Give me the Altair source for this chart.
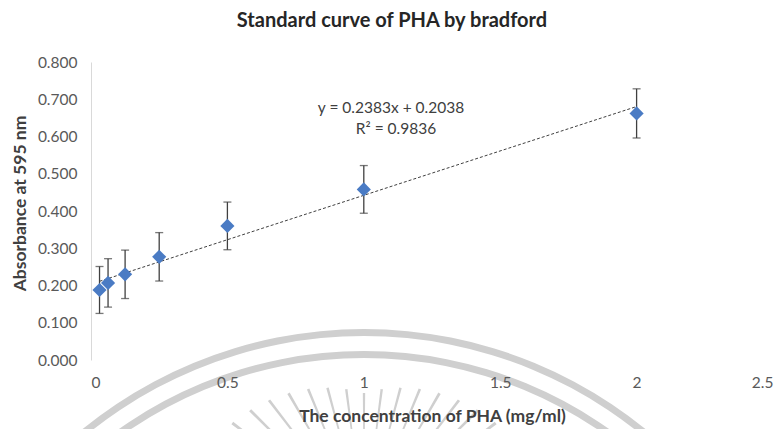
import altair as alt
import pandas as pd

# PHA standard series (mg/ml) and Bradford absorbance readings at 595 nm
concentration = [0.03125, 0.0625, 0.125, 0.25, 0.5, 1.0, 2.0]
absorbance = [0.188, 0.207, 0.230, 0.277, 0.360, 0.458, 0.662]
abs_error = [0.063, 0.065, 0.065, 0.065, 0.064, 0.064, 0.066]

# linear fit reported for the series
slope = 0.2383
intercept = 0.2038
r_squared = 0.9836

x_ticks = [0, 0.5, 1, 1.5, 2, 2.5]
y_ticks = [0.0, 0.1, 0.2, 0.3, 0.4, 0.5, 0.6, 0.7, 0.8]

FONT = "Lato"
BLUE = "#4a7bc4"
DARK = "#404040"
EMBLEM = "#cfcfcf"

df = pd.DataFrame({"conc": concentration, "abs": absorbance, "err": abs_error})
df["lo"] = df["abs"] - df["err"]
df["hi"] = df["abs"] + df["err"]

x_scale = alt.Scale(domain=[0, 2.5], nice=False, zero=False)
y_scale = alt.Scale(domain=[0, 0.8], nice=False)

x_axis = alt.Axis(
    title="The concentration of PHA (mg/ml)",
    values=x_ticks,
    format="~g",
    domain=False,
    ticks=False,
    grid=False,
    labelOverlap=False,
    labelPadding=15,
    labelFont=FONT,
    labelFontSize=15.5,
    labelColor="#595959",
    titleFont=FONT,
    titleFontSize=17.5,
    titleFontWeight="bold",
    titleColor=DARK,
    titlePadding=17,
    zindex=1,
)
y_axis = alt.Axis(
    title="Absorbance at 595 nm",
    values=y_ticks,
    format=".3f",
    domain=True,
    domainColor="#d9d9d9",
    ticks=False,
    grid=False,
    labelOverlap=False,
    labelPadding=14,
    labelFont=FONT,
    labelFontSize=15.5,
    labelColor="#595959",
    titleFont=FONT,
    titleFontSize=17.5,
    titleFontWeight="bold",
    titleColor=DARK,
    titlePadding=8,
    titleY=141,
    zindex=1,
)

x_enc = alt.X("conc:Q", scale=x_scale, axis=x_axis)


def y_of(field):
    return alt.Y(f"{field}:Q", scale=y_scale, axis=y_axis)


base = alt.Chart(df)

# decorative emblem behind the plot: two rings and a fan of rays
ring_src = pd.DataFrame({"ring": ["outer"]})
outer_ring = alt.Chart(ring_src).mark_arc(
    theta=0, theta2=6.2832, radius=446, radius2=439, color=EMBLEM
).encode(x=alt.value(273), y=alt.value(713))
inner_ring = alt.Chart(ring_src).mark_arc(
    theta=0, theta2=6.2832, radius=424, radius2=417, color=EMBLEM
).encode(x=alt.value(273), y=alt.value(713))

rays = alt.Chart(alt.sequence(0, 15, as_="i")).transform_calculate(
    deg="-52.5 + datum.i * 7.5",
).transform_calculate(
    t1="2 * PI + datum.deg * PI / 180 - 0.009",
    t2="2 * PI + datum.deg * PI / 180 + 0.009",
    r_out="131 + 30 * abs(datum.deg) / 45",
).transform_calculate(
    r_in="datum.r_out - 70",
).mark_arc(color=EMBLEM).encode(
    theta=alt.Theta("t1:Q", scale=None),
    theta2="t2:Q",
    radius=alt.Radius("r_out:Q", scale=None),
    radius2="r_in:Q",
    x=alt.value(273),
    y=alt.value(462),
)

trend = base.transform_calculate(
    fit=f"{slope} * datum.conc + {intercept}"
).mark_line(color=DARK, strokeWidth=1, strokeDash=[3, 2]).encode(
    x=x_enc, y=y_of("fit")
)

bars = base.mark_rule(color=DARK, strokeWidth=1.3).encode(
    x=x_enc, y=y_of("lo"), y2="hi:Q"
)
cap_lo = base.mark_tick(orient="horizontal", size=8, thickness=1.3, color=DARK).encode(
    x=x_enc, y=y_of("lo")
)
cap_hi = base.mark_tick(orient="horizontal", size=8, thickness=1.3, color=DARK).encode(
    x=x_enc, y=y_of("hi")
)

points = base.mark_point(shape="diamond", filled=True, size=200, opacity=1, color=BLUE).encode(
    x=x_enc, y=y_of("abs")
)

eq_src = pd.DataFrame({
    "label": [f"y = {slope}x + {intercept}", f"R\u00b2 = {r_squared}"],
})
eq1 = alt.Chart(eq_src).transform_filter(alt.datum.label == eq_src["label"][0]).mark_text(
    font=FONT, fontSize=15.5, color=DARK, align="center", baseline="middle"
).encode(text="label:N", x=alt.value(300), y=alt.value(46))
eq2 = alt.Chart(eq_src).transform_filter(alt.datum.label == eq_src["label"][1]).mark_text(
    font=FONT, fontSize=15.5, color=DARK, align="center", baseline="middle"
).encode(text="label:N", x=alt.value(305), y=alt.value(67))

chart = alt.layer(
    outer_ring, inner_ring, rays, trend, bars, cap_lo, cap_hi, points, eq1, eq2
).properties(
    width=682,
    height=298,
    padding={"left": 91, "top": 62, "right": 11, "bottom": 69},
    autosize=alt.AutoSizeParams(type="none"),
    background="white",
    title=alt.TitleParams(
        "Standard curve of PHA by bradford",
        font=FONT,
        fontSize=20,
        fontWeight="bold",
        color="#262626",
        anchor="middle",
        dx=-40,
        offset=24,
    ),
).configure_view(stroke=None)

chart.save("out.html", embed_options={"renderer": "svg", "actions": False})
